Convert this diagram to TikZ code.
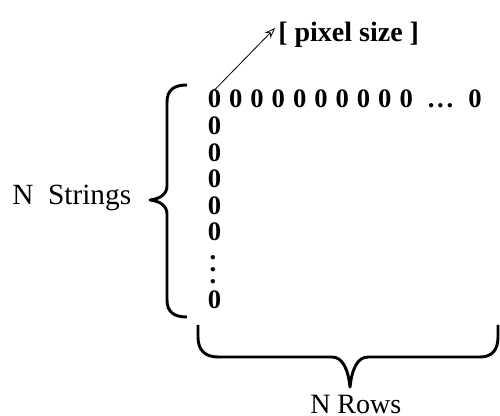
\documentclass[tikz,border=0pt]{standalone}
\usepackage{fontspec}
\setmainfont{Liberation Serif}
\usetikzlibrary{arrows.meta}
\begin{document}
\begin{tikzpicture}[x=0.75pt,y=-0.75pt,
  zero/.style={inner sep=0pt, anchor=base, font=\fontsize{20}{24}\selectfont\bfseries},
  lbl/.style={inner sep=0pt, anchor=base west, font=\fontsize{21}{25}\selectfont},
  blbl/.style={lbl, font=\fontsize{21}{25}\selectfont\bfseries},
  brace/.style={line width=2.2pt, line cap=butt, line join=round},
  ptr/.style={line width=0.6pt, -{Stealth[open,length=8pt,width=6pt]}}]
\useasboundingbox (0,0) rectangle (500,416);
% top row
\foreach \i in {0,...,9} \node[zero] (r\i) at ({214.5+21.3*\i},108) {0};
\node[zero] (rdots) at (440.5,108) {.\hspace{2pt}.\hspace{2pt}.};
\node[zero] (rlast) at (475,108) {0};
% column
\foreach \j/\yy in {1/134.6,2/161.2,3/187.8,4/214.4,5/241} \node[zero] (c\j) at (214.5,\yy) {0};
\node[zero, anchor=center, align=center, font=\fontsize{20}{9}\selectfont\bfseries] (vd) at (213,270) {.\\.\\.};
\node[zero] (clast) at (214.5,309) {0};
% labels
\node[lbl, font=\fontsize{22}{26}\selectfont] (ns) at (12,205) {N\hspace{0.5em}Strings};
\node[blbl] (ps) at (278,42) {[ pixel size ]};
\node[lbl] (nr) at (310,414) {N Rows};
% arrow
\coordinate (tip) at (275,28);
\draw[ptr] (r0.north) -- (tip);
% left brace
\draw[brace] (187,85) .. controls (174,85) and (167,90) .. (167,102) -- (167,186)
  .. controls (167,194) and (160,199) .. (150,200)
  .. controls (160,201) and (167,206) .. (167,214) -- (167,300)
  .. controls (167,312) and (174,317) .. (187,317);
% bottom brace
\draw[brace] (198,325) -- (198,337) .. controls (198,350) and (205,357) .. (218,357)
  -- (332,357) .. controls (342,357) and (348,368) .. (350,387)
  .. controls (352,368) and (358,357) .. (368,357) -- (480,357)
  .. controls (492,357) and (498,350) .. (498,337) -- (498,325);
\end{tikzpicture}
\end{document}
